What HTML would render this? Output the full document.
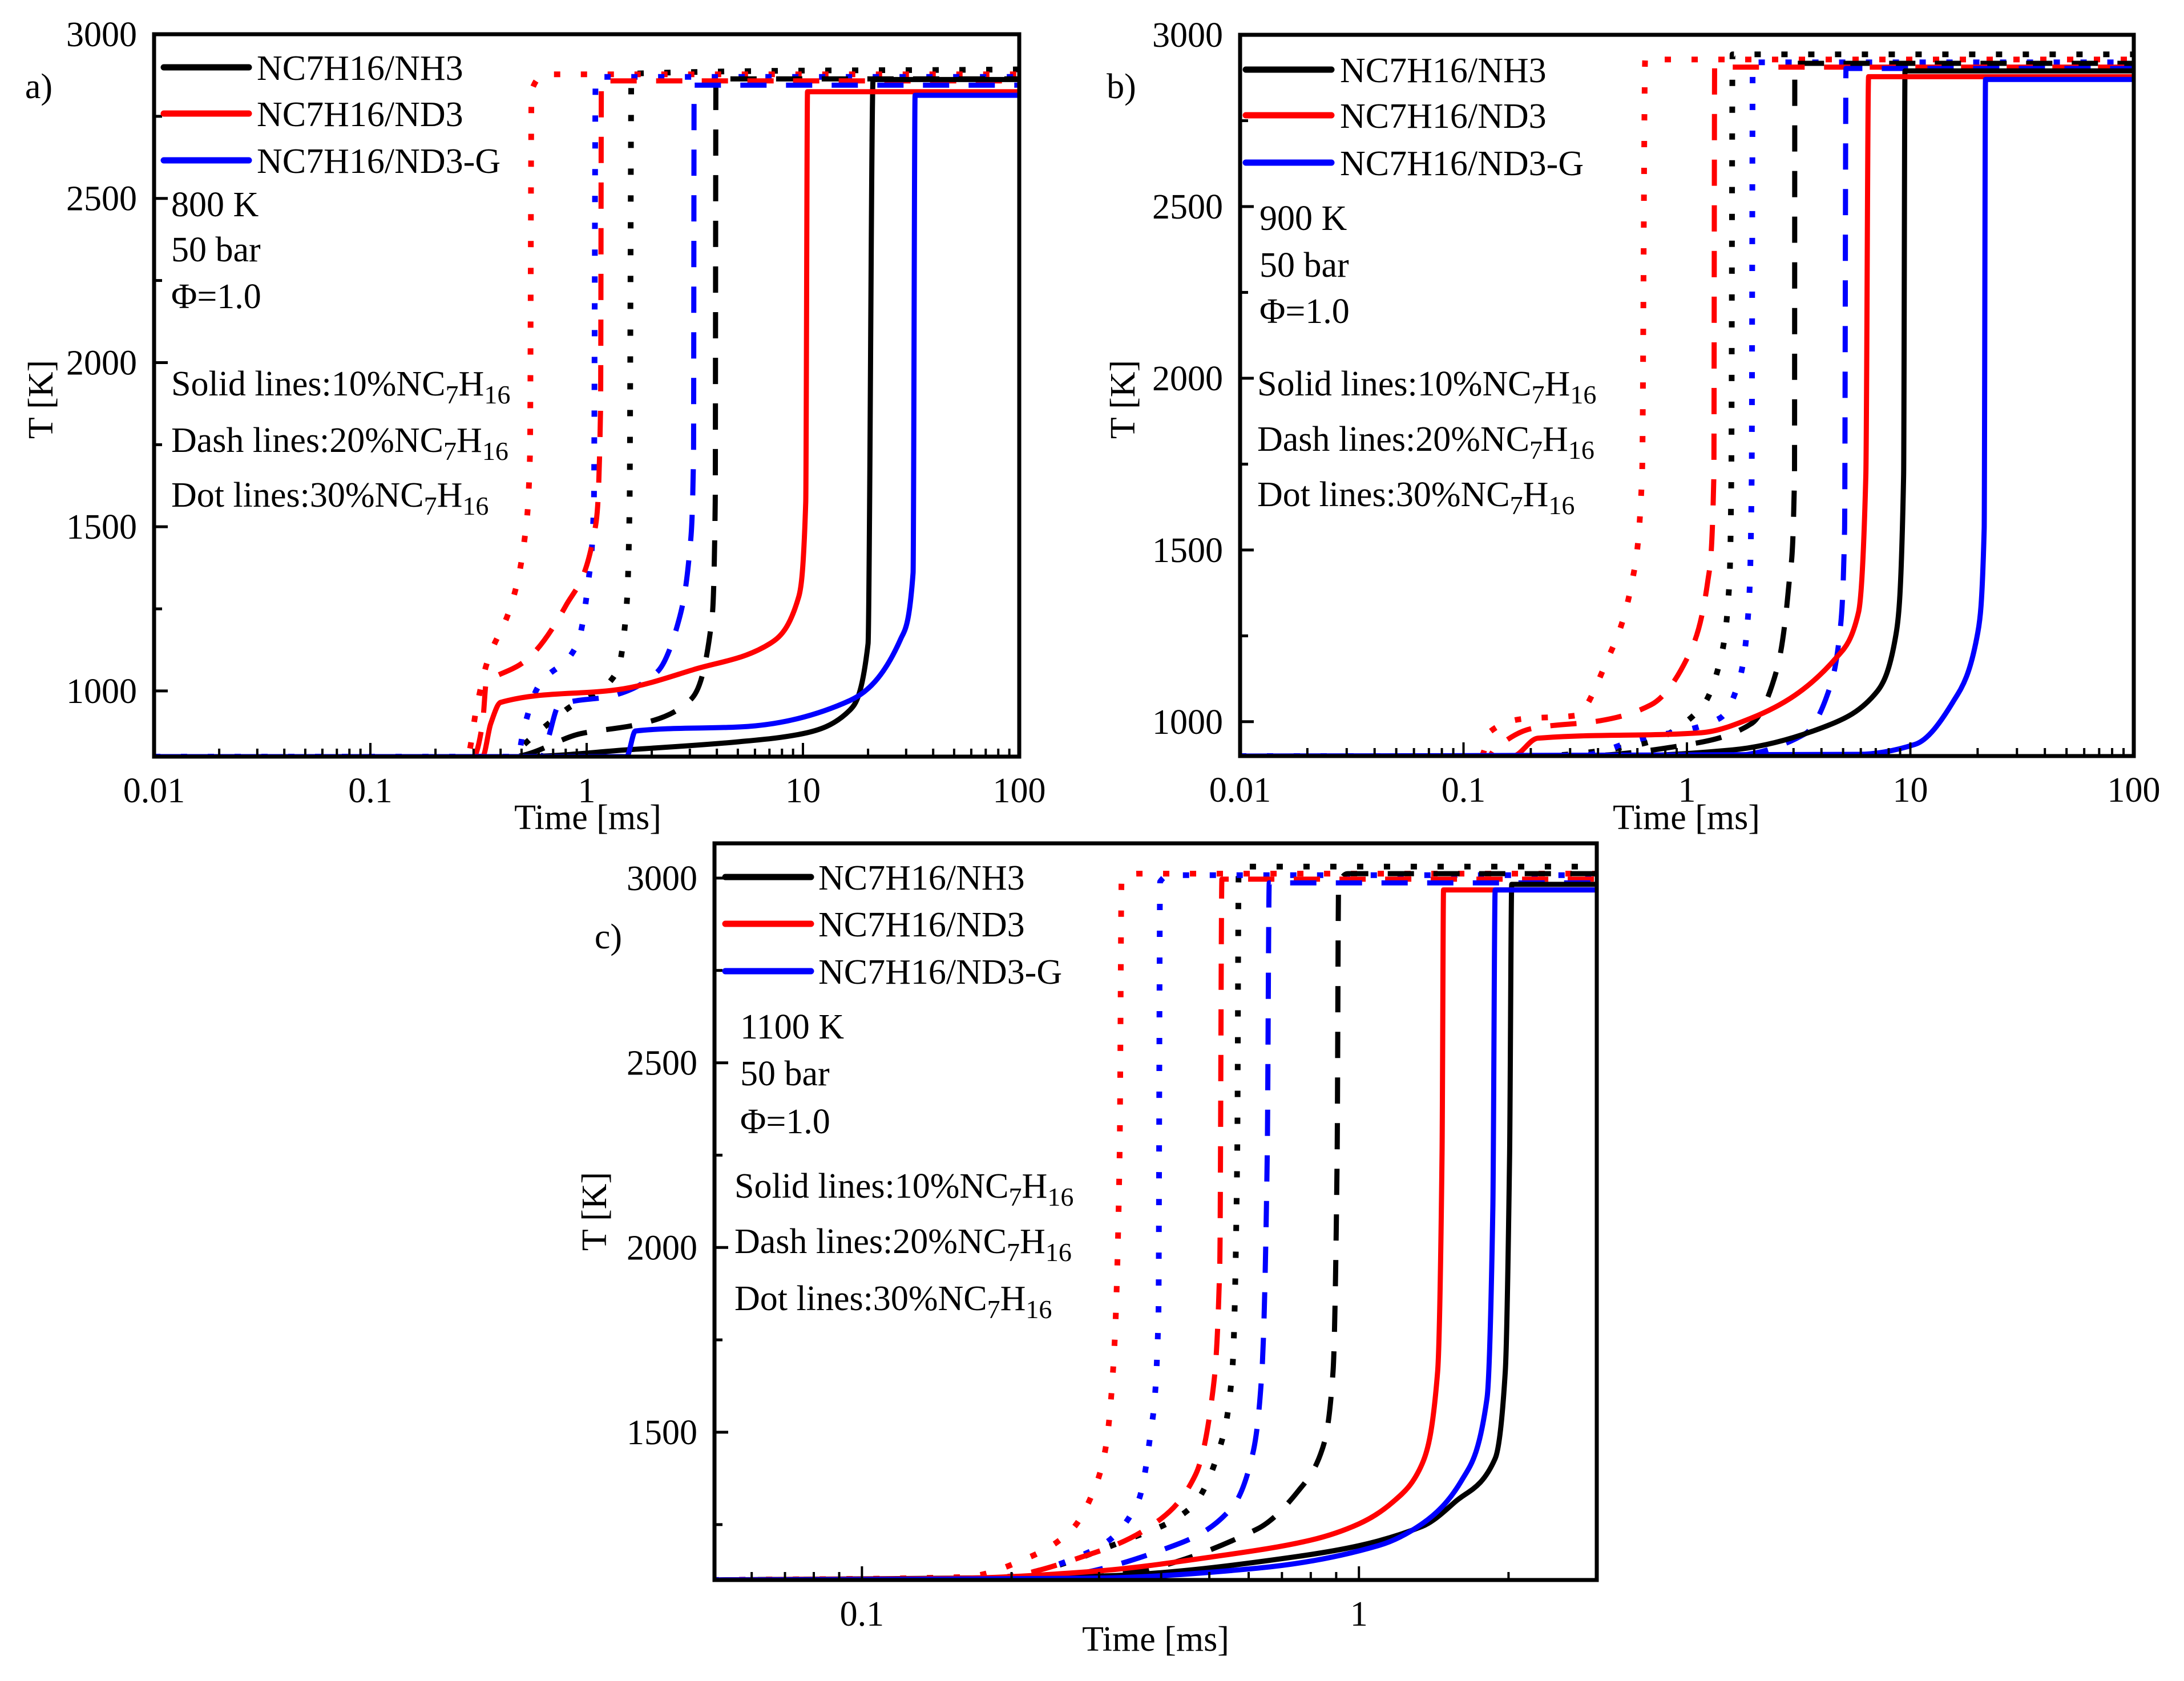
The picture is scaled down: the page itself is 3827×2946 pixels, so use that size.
<!DOCTYPE html>
<html><head><meta charset="utf-8">
<style>
html,body{margin:0;padding:0;background:#fff;}
svg{display:block;}
text{font-family:"Liberation Serif","Times New Roman",serif;fill:#000;}
</style></head>
<body>
<svg id="fig" xmlns="http://www.w3.org/2000/svg" width="3827" height="2946" viewBox="0 0 3827 2946">
<rect x="0" y="0" width="3827" height="2946" fill="#fff"/>
</svg>
<script>
// ---------- Panel a (800 K) data ----------
const aBlackSolidT=[0.01,0.5,1.56,5,10,16.5,20,21.1,100];
const aBlackSolidY=[800,800,821,845,870,942,1144,2862,2862];
const aRedSolidT=[0.01,0.33,0.36,0.40,1.49,3.12,7.03,9.57,10.3,10.5,100];
const aRedSolidY=[800,800,900,965,1007,1065,1144,1288,1576,2825,2825];
const aBlueSolidT=[0.01,1.53,1.68,5.57,16.5,28.3,32.3,33,100];
const aBlueSolidY=[800,800,878,892,971,1158,1360,2814,2814];
const aBlackDashT=[0.01,0.45,0.94,1.75,3.0,3.79,3.93,3.96,100];
const aBlackDashY=[800,800,870,899,971,1216,1576,2864,2864];
const aRedDashT=[0.01,0.3,0.33,0.344,0.36,0.507,0.80,1.10,1.16,1.17,100];
const aRedDashY=[800,800,900,1029,1037,1086,1259,1504,1864,2858,2858];
const aBlueDashT=[0.01,0.62,0.66,0.745,1.33,2.12,2.67,3.0,3.12,3.14,100];
const aBlueDashY=[800,800,850,956,986,1058,1216,1432,1720,2845,2845];
const aBlackDotT=[0.01,0.45,0.5,0.8,1.38,1.53,1.58,1.61,100];
const aBlackDotY=[800,800,830,942,1058,1259,1576,2880,2893];
const aRedDotT=[0.01,0.28,0.31,0.344,0.45,0.516,0.547,0.556,0.66,100];
const aRedDotY=[800,800,950,1080,1267,1461,1720,2828,2878,2878];
const aBlueDotT=[0.01,0.48,0.51,0.59,0.906,1.02,1.08,1.1,100];
const aBlueDotY=[800,800,880,1007,1144,1338,1576,2870,2870];
// ---------- Panel b (900 K) data ----------
const bBlackSolidT=[0.01,0.5,1.6,4.24,7.1,8.64,9.33,9.46,100];
const bBlackSolidY=[900,900,918,988,1088,1257,1718,2895,2895];
const bRedSolidT=[0.01,0.166,0.215,1.16,1.95,4.67,5.86,6.32,6.5,100];
const bRedSolidY=[900,900,952,968,1011,1187,1318,1718,2878,2878];
const bBlueSolidT=[0.01,5.86,10.5,15.5,20,21.4,21.7,100];
const bBlueSolidY=[900,905,934,1057,1257,1564,2870,2870];
const bBlackDashT=[0.01,0.32,1.02,1.95,2.52,2.87,3.03,3.04,100];
const bBlackDashY=[900,900,934,995,1149,1410,1718,2917,2917];
const bRedDashT=[0.01,0.13,0.137,0.202,0.41,0.69,1.02,1.24,1.32,1.33,100];
const bRedDashY=[900,900,918,980,1003,1049,1195,1410,1718,2906,2906];
const bBlueDashT=[0.01,1.5,3.38,4.38,4.83,5.08,5.15,100];
const bBlueDashY=[900,900,965,1103,1257,1564,2902,2902];
const bBlackDotT=[0.01,0.2,0.61,1.16,1.41,1.55,1.58,1.6,100];
const bBlackDotY=[900,900,934,1041,1180,1410,1718,2943,2943];
const bRedDotT=[0.01,0.12,0.132,0.183,0.318,0.44,0.569,0.63,0.65,100];
const bRedDotY=[900,900,972,1008,1018,1180,1410,1718,2928,2928];
const bBlueDotT=[0.01,0.32,0.61,1.41,1.71,1.89,1.95,1.97,100];
const bBlueDotY=[900,900,949,1011,1118,1334,1718,2920,2920];
// ---------- Panel c (1100 K) data ----------
const cBlackSolidT=[0.05,0.29,0.755,1.34,1.56,1.88,1.97,2.01,2.03,3];
const cBlackSolidY=[1100,1110,1164,1245,1311,1429,1665,2254,2983,2983];
const cRedSolidT=[0.05,0.16,0.29,0.515,0.80,1.0,1.17,1.34,1.44,1.47,1.48,3];
const cRedSolidY=[1100,1105,1123,1164,1208,1252,1311,1414,1665,2254,2968,2968];
const cBlueSolidT=[0.05,0.29,0.624,1.10,1.34,1.61,1.81,1.86,1.88,3];
const cBlueSolidY=[1100,1105,1132,1194,1252,1370,1591,2107,2968,2968];
const cBlackDashT=[0.05,0.29,0.624,0.755,0.846,0.887,0.904,0.91,0.95,3];
const cBlackDashY=[1100,1110,1238,1341,1459,1665,2254,2975,3012,3012];
const cRedDashT=[0.05,0.18,0.291,0.387,0.469,0.506,0.525,0.53,3];
const cRedDashY=[1100,1105,1172,1252,1385,1591,1959,2997,2997];
const cBlueDashT=[0.05,0.22,0.426,0.556,0.612,0.638,0.654,0.66,3];
const cBlueDashY=[1100,1104,1194,1297,1444,1665,2254,2987,2987];
const cBlackDotT=[0.05,0.18,0.352,0.46,0.525,0.556,0.569,0.573,3];
const cBlackDotY=[1100,1105,1216,1297,1459,1665,2254,3031,3031];
const cRedDotT=[0.05,0.16,0.219,0.265,0.291,0.308,0.32,0.33,0.333,0.36,3];
const cRedDotY=[1100,1108,1164,1238,1334,1444,1665,2254,2997,3012,3012];
const cBlueDotT=[0.05,0.18,0.29,0.359,0.38,0.395,0.398,0.42,3];
const cBlueDotY=[1100,1105,1179,1311,1488,1812,2990,3008,3008];
// ---------- tick labels ----------
const xTickLabelsAB=["0.01","0.1","1","10","100"];
const xTickValsAB=[0.01,0.1,1,10,100];
const yTickValsA=[1000,1500,2000,2500,3000];
const yTickValsB=[1000,1500,2000,2500,3000];
const xTickLabelsC=["0.1","1"];
const xTickValsC=[0.1,1];
const yTickValsC=[1500,2000,2500,3000];
const legendLabels=["NC7H16/NH3","NC7H16/ND3","NC7H16/ND3-G"];

const NS="http://www.w3.org/2000/svg";
const svg=document.getElementById('fig');
function mk(tag,attrs,parent){const e=document.createElementNS(NS,tag);for(const k in attrs)e.setAttribute(k,attrs[k]);(parent||svg).appendChild(e);return e;}
const COLORS={black:"#000000",red:"#ff0000",blue:"#0000ff"};
const DASH={solid:null,dash:"46 34",dot:"11 36"};

// monotone cubic (Fritsch-Carlson) path through pixel points, y as function of x
function smoothPath(xs,ys){
  const n=xs.length;
  if(n<3){return 'M'+xs.map((x,i)=>x.toFixed(1)+','+ys[i].toFixed(1)).join(' L');}
  const dx=[],dy=[],m=[];
  for(let i=0;i<n-1;i++){dx.push(Math.max(xs[i+1]-xs[i],0.01));dy.push(ys[i+1]-ys[i]);m.push(dy[i]/dx[i]);}
  const tan=[m[0]];
  for(let i=1;i<n-1;i++){
    if(m[i-1]*m[i]<=0)tan.push(0);
    else{const w1=2*dx[i]+dx[i-1],w2=dx[i]+2*dx[i-1];tan.push((w1+w2)/(w1/m[i-1]+w2/m[i]));}
  }
  tan.push(m[n-2]);
  let d='M'+xs[0].toFixed(1)+','+ys[0].toFixed(1);
  for(let i=0;i<n-1;i++){
    const h=dx[i]/3;
    d+=' C'+(xs[i]+h).toFixed(1)+','+(ys[i]+tan[i]*h).toFixed(1)+' '+(xs[i+1]-h).toFixed(1)+','+(ys[i+1]-tan[i+1]*h).toFixed(1)+' '+xs[i+1].toFixed(1)+','+ys[i+1].toFixed(1);
  }
  return d;
}

function panel(cfg){
  const g=mk('g',{});
  
  
  const lx0=Math.log10(cfg.xmin),lx1=Math.log10(cfg.xmax);
  const X=t=>cfg.L+(Math.log10(t)-lx0)/(lx1-lx0)*(cfg.R-cfg.L);
  const Y=v=>cfg.B-(v-cfg.ymin)/(cfg.ymax-cfg.ymin)*(cfg.B-cfg.T);
  const cid='clip-'+cfg.id;
  const cp=mk('clipPath',{id:cid},g);
  mk('rect',{x:cfg.L,y:cfg.T,width:cfg.R-cfg.L,height:cfg.B-cfg.T},cp);
  const sg=mk('g',{'clip-path':'url(#'+cid+')'},g);
  
  
  cfg.series.forEach(s=>{
    const xs=s.t.map(X),ys=s.y.map(Y);
    const a={d:smoothPath(xs,ys),fill:'none',stroke:COLORS[s.c],'stroke-width':9,'stroke-linejoin':'round'};
    if(DASH[s.d])a['stroke-dasharray']=DASH[s.d];
    if(s.d==='dot')a['stroke-width']=10;
    const pl=mk('path',a,sg);
    
    
  });
  const fr=mk('rect',{x:cfg.L,y:cfg.T,width:cfg.R-cfg.L,height:cfg.B-cfg.T,fill:'none',stroke:'#000','stroke-width':7},g);
  
  
  for(let d=Math.floor(lx0);d<lx1;d++){
    for(let m=1;m<10;m++){
      const t=m*Math.pow(10,d);
      if(t<cfg.xmin*0.999||t>cfg.xmax*1.001)continue;
      const x=X(t);const len=(m===1)?24:14;
      const tk=mk('line',{x1:x,y1:cfg.B,x2:x,y2:cfg.B-len,stroke:'#000','stroke-width':4},g);
      
      
    }
  }
  cfg.xTicks.forEach((v,i)=>{
    const tx=mk('text',{x:X(v),y:cfg.B+80,'font-size':62,'text-anchor':'middle'},g);
    tx.textContent=cfg.xLabels[i];
    
    
  });
  for(let v=Math.ceil(cfg.ymin/250)*250;v<=cfg.ymax;v+=250){
    const y=Y(v);const major=(v%500===0);
    const tk=mk('line',{x1:cfg.L,y1:y,x2:cfg.L+(major?24:14),y2:y,stroke:'#000','stroke-width':5},g);
    
    
  }
  cfg.yTicks.forEach(v=>{
    const tx=mk('text',{x:cfg.L-30,y:Y(v)+21,'font-size':62,'text-anchor':'end'},g);
    tx.textContent=String(v);
    
    
  });
  const xt=mk('text',{x:cfg.xtX,y:cfg.xtY,'font-size':62,'text-anchor':'middle'},g);
  xt.textContent='Time [ms]';
  
  
  const yt=mk('text',{x:0,y:0,'font-size':62,'text-anchor':'middle',transform:'translate('+cfg.ytX+','+cfg.ytY+') rotate(-90)'},g);
  yt.textContent='T [K]';
  
  
  const pl=mk('text',{x:cfg.plX,y:cfg.plY,'font-size':62,'text-anchor':'middle'},g);
  pl.textContent=cfg.letter;
  
  
  const lg=mk('g',{},g);
  
  
  ['black','red','blue'].forEach((c,i)=>{
    const y=cfg.legY[i];
    const ln=mk('line',{x1:cfg.legX0,y1:y,x2:cfg.legX1,y2:y,stroke:COLORS[c],'stroke-width':11,'stroke-linecap':'round'},lg);
    
    
    const tx=mk('text',{x:cfg.legTX,y:y+22,'font-size':62},lg);
    tx.textContent=legendLabels[i];
    
    
  });
  const an=mk('g',{},g);
  
  
  [cfg.tempLabel,'50 bar','\u03A6=1.0'].forEach((s,i)=>{
    const tx=mk('text',{x:cfg.annX,y:cfg.annY[i]+22,'font-size':62},an);
    tx.textContent=s;
    
    
  });
  ['Solid lines:10%','Dash lines:20%','Dot lines:30%'].forEach((s,i)=>{
    const tx=mk('text',{x:cfg.annX2,y:cfg.annY[3+i]+22,'font-size':62},an);
    
    
    tx.appendChild(document.createTextNode(s+'NC'));
    const s1=mk('tspan',{dy:14,'font-size':46},tx);s1.textContent='7';
    const s2=mk('tspan',{dy:-14},tx);s2.textContent='H';
    const s3=mk('tspan',{dy:14,'font-size':46},tx);s3.textContent='16';
  });
}

function S(t,y,c,d,n){return {t,y,c,d,n};}

panel({id:'a',name:'panel-a-800K',letter:'a)',L:270,R:1786,T:60,B:1326,xmin:0.01,xmax:100,ymin:800,ymax:3000,
  xTicks:xTickValsAB,xLabels:xTickLabelsAB,yTicks:yTickValsA,xtX:1030,xtY:1453,ytX:92,ytY:700,plX:68,plY:172,
  legX0:287,legX1:436,legY:[118,199,281],legTX:450,tempLabel:'800 K',annX:300,annX2:300,annY:[357,436,518,671,770,866],
  series:[
    S(aBlackDotT,aBlackDotY,'black','dot','nh3-30pct-line'),S(aRedDotT,aRedDotY,'red','dot','nd3-30pct-line'),S(aBlueDotT,aBlueDotY,'blue','dot','nd3g-30pct-line'),
    S(aBlackDashT,aBlackDashY,'black','dash','nh3-20pct-line'),S(aRedDashT,aRedDashY,'red','dash','nd3-20pct-line'),S(aBlueDashT,aBlueDashY,'blue','dash','nd3g-20pct-line'),
    S(aBlackSolidT,aBlackSolidY,'black','solid','nh3-10pct-line'),S(aRedSolidT,aRedSolidY,'red','solid','nd3-10pct-line'),S(aBlueSolidT,aBlueSolidY,'blue','solid','nd3g-10pct-line')]});

panel({id:'b',name:'panel-b-900K',letter:'b)',L:2173,R:3739,T:61,B:1325,xmin:0.01,xmax:100,ymin:900,ymax:3000,
  xTicks:xTickValsAB,xLabels:xTickLabelsAB,yTicks:yTickValsB,xtX:2955,xtY:1453,ytX:1988,ytY:700,plX:1965,plY:172,
  legX0:2183,legX1:2333,legY:[122,202,285],legTX:2348,tempLabel:'900 K',annX:2207,annX2:2203,annY:[381,463,544,671,768,865],
  series:[
    S(bBlackDotT,bBlackDotY,'black','dot','nh3-30pct-line'),S(bRedDotT,bRedDotY,'red','dot','nd3-30pct-line'),S(bBlueDotT,bBlueDotY,'blue','dot','nd3g-30pct-line'),
    S(bBlackDashT,bBlackDashY,'black','dash','nh3-20pct-line'),S(bRedDashT,bRedDashY,'red','dash','nd3-20pct-line'),S(bBlueDashT,bBlueDashY,'blue','dash','nd3g-20pct-line'),
    S(bBlackSolidT,bBlackSolidY,'black','solid','nh3-10pct-line'),S(bRedSolidT,bRedSolidY,'red','solid','nd3-10pct-line'),S(bBlueSolidT,bBlueSolidY,'blue','solid','nd3g-10pct-line')]});

panel({id:'c',name:'panel-c-1100K',letter:'c)',L:1252,R:2798,T:1478,B:2769,xmin:0.0505,xmax:3.01,ymin:1100,ymax:3094,
  xTicks:xTickValsC,xLabels:xTickLabelsC,yTicks:yTickValsC,xtX:2025,xtY:2893,ytX:1062,ytY:2123,plX:1066,plY:1662,
  legX0:1271,legX1:1421,legY:[1537,1619,1702],legTX:1434,tempLabel:'1100 K',annX:1297,annX2:1287,annY:[1798,1880,1964,2077,2174,2274],
  series:[
    S(cBlackDotT,cBlackDotY,'black','dot','nh3-30pct-line'),S(cRedDotT,cRedDotY,'red','dot','nd3-30pct-line'),S(cBlueDotT,cBlueDotY,'blue','dot','nd3g-30pct-line'),
    S(cBlackDashT,cBlackDashY,'black','dash','nh3-20pct-line'),S(cRedDashT,cRedDashY,'red','dash','nd3-20pct-line'),S(cBlueDashT,cBlueDashY,'blue','dash','nd3g-20pct-line'),
    S(cBlackSolidT,cBlackSolidY,'black','solid','nh3-10pct-line'),S(cRedSolidT,cRedSolidY,'red','solid','nd3-10pct-line'),S(cBlueSolidT,cBlueSolidY,'blue','solid','nd3g-10pct-line')]});
</script>
</body></html>
